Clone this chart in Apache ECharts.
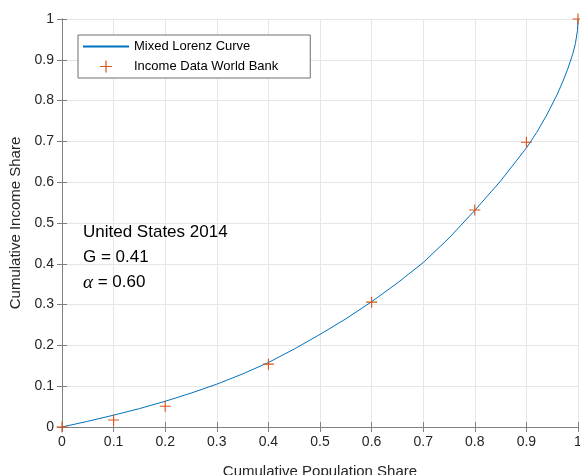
<!DOCTYPE html>
<html><head><meta charset="utf-8">
<script src="https://cdn.jsdelivr.net/npm/echarts@6/dist/echarts.min.js"></script>
<style>html,body{margin:0;padding:0;background:#fff}#c{width:580px;height:475px}</style>
</head><body><div id="c"></div>
<script>
// Mixed Lorenz curve
const curveX = [0, 0.05, 0.1, 0.15, 0.2, 0.25, 0.3, 0.35, 0.4, 0.45, 0.5, 0.55, 0.6, 0.65, 0.7, 0.75, 0.8, 0.85, 0.9, 0.92, 0.94, 0.96, 0.97, 0.98, 0.99, 0.995, 0.999, 1];
const curveY = [0, 0.014, 0.029, 0.045, 0.063, 0.083, 0.105, 0.13, 0.158, 0.191, 0.227, 0.265, 0.307, 0.353, 0.403, 0.463, 0.531, 0.603, 0.684, 0.722, 0.766, 0.816, 0.845, 0.877, 0.915, 0.94, 0.972, 1];
// World Bank income data points
const dataX = [0, 0.1, 0.2, 0.4, 0.6, 0.8, 0.9, 1];
const dataY = [0, 0.017, 0.051, 0.154, 0.306, 0.532, 0.698, 1];
// Tick labels
const xTickLabels = ['0','0.1','0.2','0.3','0.4','0.5','0.6','0.7','0.8','0.9','1'];
const yTickLabels = ['0','0.1','0.2','0.3','0.4','0.5','0.6','0.7','0.8','0.9','1'];
const seriesNames = ['Mixed Lorenz Curve', 'Income Data World Bank'];
const annotation = ['United States 2014', 'G = 0.41', '0.60'];

const FONT = "'Liberation Sans', Arial, Helvetica, sans-serif";
const AXIS = '#808080';
const plus = 'path://M0,5.4h12v1.2h-12z M5.4,0h1.2v12h-1.2z';
const fmt = list => v => { const i = Math.round(v * 10); return list[i] !== undefined ? list[i] : ''; };

const chart = echarts.init(document.getElementById('c'), null, {renderer: 'canvas'});
const axisCommon = {
  type: 'value', min: 0, max: 1, interval: 0.1,
  axisLine: {show: true, lineStyle: {color: AXIS, width: 1}},
  axisTick: {show: true, inside: true, length: 5, lineStyle: {color: AXIS}},
};
chart.setOption({
  animation: false,
  textStyle: {fontFamily: FONT},
  grid: {left: 62, right: 2, top: 19, bottom: 48, containLabel: false, outerBoundsMode: 'none'},
  xAxis: [
    Object.assign({}, axisCommon, {
      position: 'bottom',
      name: 'Cumulative Population Share', nameLocation: 'middle', nameGap: 37,
      nameTextStyle: {fontSize: 15, color: '#262626', fontFamily: FONT},
      axisLabel: {fontSize: 14, color: '#262626', margin: 8, fontFamily: FONT, formatter: fmt(xTickLabels)},
      splitLine: {show: true, lineStyle: {color: '#e6e6e6', width: 1}}
    }),
    Object.assign({}, axisCommon, {position: 'top', axisLabel: {show: false}, splitLine: {show: false}})
  ],
  yAxis: [
    Object.assign({}, axisCommon, {
      position: 'left',
      name: 'Cumulative Income Share', nameLocation: 'middle', nameGap: 30,
      nameTextStyle: {fontSize: 15, color: '#262626', fontFamily: FONT},
      axisLabel: {fontSize: 14, color: '#262626', margin: 8, fontFamily: FONT, formatter: fmt(yTickLabels)},
      splitLine: {show: true, lineStyle: {color: '#e6e6e6', width: 1}}
    }),
    Object.assign({}, axisCommon, {position: 'right', axisLabel: {show: false}, splitLine: {show: false}})
  ],
  legend: {
    orient: 'vertical', left: 78, top: 35,
    backgroundColor: '#fff', borderColor: '#6e6e6e', borderWidth: 1,
    padding: [5, 32, 5, 4], itemWidth: 46, itemHeight: 12, itemGap: 7,
    textStyle: {fontSize: 13, color: '#000', fontFamily: FONT},
    data: [{name: seriesNames[0], itemStyle: {opacity: 0}}, {name: seriesNames[1]}]
  },
  series: [
    {
      name: seriesNames[0], type: 'line', symbol: 'none', smooth: false,
      lineStyle: {color: '#0072BD', width: 1}, itemStyle: {color: '#0072BD'},
      data: curveX.map((x, i) => [x, curveY[i]]), z: 3
    },
    {
      name: seriesNames[1], type: 'scatter', symbol: plus, symbolSize: 11,
      itemStyle: {color: '#D95319', opacity: 1},
      data: dataX.map((x, i) => [x, dataY[i]]), z: 4
    }
  ],
  graphic: [{
    type: 'text', left: 83, top: 220, z: 10,
    style: {
      text: annotation[0] + '\n' + annotation[1] + '\n{a|α} = ' + annotation[2],
      fontSize: 17, fontFamily: FONT, fill: '#000', lineHeight: 25,
      rich: {a: {fontFamily: "'Liberation Serif', 'DejaVu Serif', serif", fontStyle: 'italic', fontSize: 19, lineHeight: 25}}
    }
  }]
});
</script></body></html>
